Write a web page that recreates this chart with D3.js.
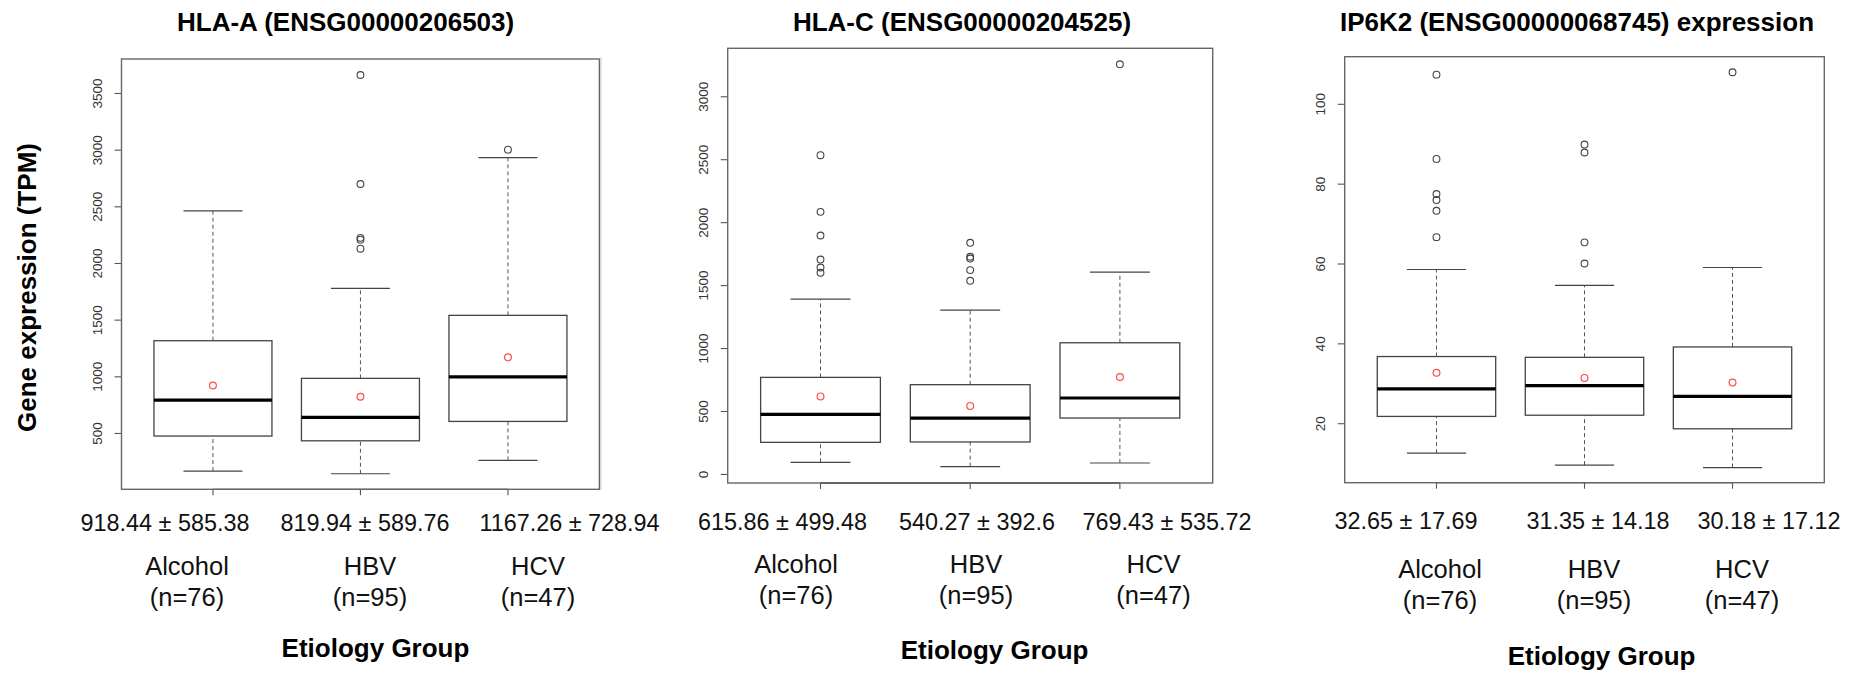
<!DOCTYPE html>
<html>
<head>
<meta charset="utf-8">
<script src="https://cdn.jsdelivr.net/npm/d3@7"></script>
<style>
  body { margin: 0; background: #fff; }
  svg { display: block; font-family: "Liberation Sans", Arial, Helvetica, sans-serif; }
</style>
</head>
<body>
<svg id="chart" width="1852" height="673"></svg>
<script>
// groups shared by all three genes
const groups = ["Alcohol", "HBV", "HCV"];
const groupN = [76, 95, 47];

// box stats per group: [lower whisker, Q1, median, Q3, upper whisker]
const hlaA_box = [[164, 473, 790, 1314, 2460], [140, 431, 638, 982, 1776], [258, 602, 995, 1538, 2929]];
const hlaA_out = [[], [3659, 2697, 2222, 2206, 2126], [3000]];
const hlaA_mean = [918.44, 819.94, 1167.26];
const hlaA_stat = ["918.44 ± 585.38", "819.94 ± 589.76", "1167.26 ± 728.94"];
const hlaA_ticks = [500, 1000, 1500, 2000, 2500, 3000, 3500];

const hlaC_box = [[92, 251, 473, 767, 1389], [58, 254, 444, 709, 1302], [87, 444, 603, 1042, 1603]];
const hlaC_out = [[2532, 2082, 1894, 1703, 1640, 1598], [1836, 1725, 1711, 1619, 1534], [3254]];
const hlaC_mean = [615.86, 540.27, 769.43];
const hlaC_stat = ["615.86 ± 499.48", "540.27 ± 392.6", "769.43 ± 535.72"];
const hlaC_ticks = [0, 500, 1000, 1500, 2000, 2500, 3000];

const ip6k2_box = [[12.5, 21.7, 28.6, 36.7, 58.5], [9.5, 22.0, 29.4, 36.5, 54.5], [8.9, 18.6, 26.7, 39.1, 59.0]];
const ip6k2_out = [[107.3, 86.2, 77.4, 75.9, 73.2, 66.6], [89.8, 87.8, 65.3, 60.0], [107.9]];
const ip6k2_mean = [32.65, 31.35, 30.18];
const ip6k2_stat = ["32.65 ± 17.69", "31.35 ± 14.18", "30.18 ± 17.12"];
const ip6k2_ticks = [20, 40, 60, 80, 100];

// layout of each panel (pixels), separate from the data
const panels = [
  { title: "HLA-A (ENSG00000206503)", box: hlaA_box, out: hlaA_out, mean: hlaA_mean, stat: hlaA_stat,
    ticks: hlaA_ticks, yDomain: [3, 3800],
    plot: { l: 121.5, r: 599.4, t: 59, b: 489.3 }, titleX: 345.6, titleY: 30.7,
    statX: [165, 365, 569.5], statY: 531, catX: [187, 370, 538], catY: [575, 606],
    etioX: 375.5, etioY: 656.6 },
  { title: "HLA-C (ENSG00000204525)", box: hlaC_box, out: hlaC_out, mean: hlaC_mean, stat: hlaC_stat,
    ticks: hlaC_ticks, yDomain: [-72, 3381],
    plot: { l: 727.7, r: 1212.7, t: 48.3, b: 483 }, titleX: 962, titleY: 30.7,
    statX: [782.5, 977, 1167], statY: 530, catX: [796, 976, 1153.5], catY: [572.7, 603.5],
    etioX: 994.6, etioY: 658.6 },
  { title: "IP6K2 (ENSG00000068745) expression", box: ip6k2_box, out: ip6k2_out, mean: ip6k2_mean, stat: ip6k2_stat,
    ticks: ip6k2_ticks, yDomain: [5.1, 111.8],
    plot: { l: 1344.7, r: 1824.3, t: 56.7, b: 482.7 }, titleX: 1577, titleY: 30.5,
    statX: [1406, 1598, 1769], statY: 529.3, catX: [1440, 1594, 1742], catY: [578, 609],
    etioX: 1601.6, etioY: 665 }
];

const svg = d3.select("#chart");

// faint edge of the middle image
svg.append("line")
  .attr("x1", 601).attr("x2", 601).attr("y1", 57).attr("y2", 490)
  .attr("stroke", "#d8d8d8").attr("stroke-width", 1.2);

function drawPanel(p) {
  const g = svg.append("g");
  const x = d3.scaleLinear().domain([0.38, 3.62]).range([p.plot.l, p.plot.r]);
  const y = d3.scaleLinear().domain(p.yDomain).range([p.plot.b, p.plot.t]);
  const step = x(2) - x(1);
  const bw = 0.8 * step, cw = 0.4 * step;

  // y axis (R style: rotated labels)
  const ax = g.append("g")
    .attr("transform", `translate(${p.plot.l},0)`)
    .call(d3.axisLeft(y).tickValues(p.ticks).tickSize(7).tickFormat(d3.format("d")));
  ax.select(".domain").remove();
  ax.selectAll(".tick line").attr("stroke", "#555").attr("stroke-width", 1.1);
  ax.selectAll(".tick text")
    .attr("x", null).attr("dy", null)
    .attr("transform", "translate(-20,0) rotate(-90)")
    .attr("text-anchor", "middle")
    .attr("font-size", 13.5)
    .attr("fill", "#333");

  // x axis ticks and line
  g.append("line")
    .attr("x1", x(1)).attr("x2", x(3)).attr("y1", p.plot.b).attr("y2", p.plot.b)
    .attr("stroke", "#333").attr("stroke-width", 1.3);
  g.selectAll(".xt").data(groups).join("line")
    .attr("x1", (d, i) => x(i + 1)).attr("x2", (d, i) => x(i + 1))
    .attr("y1", p.plot.b).attr("y2", p.plot.b + 6)
    .attr("stroke", "#555").attr("stroke-width", 1.1);

  const bx = g.selectAll(".bx").data(p.box).join("g");
  // whiskers
  bx.append("line")
    .attr("x1", (d, i) => x(i + 1)).attr("x2", (d, i) => x(i + 1))
    .attr("y1", d => y(d[3])).attr("y2", d => y(d[4]))
    .attr("stroke", "#555").attr("stroke-dasharray", "4,3");
  bx.append("line")
    .attr("x1", (d, i) => x(i + 1)).attr("x2", (d, i) => x(i + 1))
    .attr("y1", d => y(d[0])).attr("y2", d => y(d[1]))
    .attr("stroke", "#555").attr("stroke-dasharray", "4,3");
  // staples
  bx.append("line")
    .attr("x1", (d, i) => x(i + 1) - cw / 2).attr("x2", (d, i) => x(i + 1) + cw / 2)
    .attr("y1", d => y(d[4])).attr("y2", d => y(d[4]))
    .attr("stroke", "#444").attr("stroke-width", 1.2);
  bx.append("line")
    .attr("x1", (d, i) => x(i + 1) - cw / 2).attr("x2", (d, i) => x(i + 1) + cw / 2)
    .attr("y1", d => y(d[0])).attr("y2", d => y(d[0]))
    .attr("stroke", "#444").attr("stroke-width", 1.2);
  // box
  bx.append("rect")
    .attr("x", (d, i) => x(i + 1) - bw / 2).attr("width", bw)
    .attr("y", d => y(d[3])).attr("height", d => y(d[1]) - y(d[3]))
    .attr("fill", "none").attr("stroke", "#444").attr("stroke-width", 1.3);
  // median
  bx.append("line")
    .attr("x1", (d, i) => x(i + 1) - bw / 2).attr("x2", (d, i) => x(i + 1) + bw / 2)
    .attr("y1", d => y(d[2])).attr("y2", d => y(d[2]))
    .attr("stroke", "#000").attr("stroke-width", 3.2);

  // outliers
  p.out.forEach((vals, i) => {
    g.selectAll(null).data(vals).join("circle")
      .attr("cx", x(i + 1)).attr("cy", d => y(d)).attr("r", 3.4)
      .attr("fill", "none").attr("stroke", "#444").attr("stroke-width", 1.1);
  });
  // means
  g.selectAll(".mean").data(p.mean).join("circle")
    .attr("cx", (d, i) => x(i + 1)).attr("cy", d => y(d)).attr("r", 3.4)
    .attr("fill", "none").attr("stroke", "#ff4a4a").attr("stroke-width", 1.2);

  // frame
  g.append("rect")
    .attr("x", p.plot.l).attr("y", p.plot.t)
    .attr("width", p.plot.r - p.plot.l).attr("height", p.plot.b - p.plot.t)
    .attr("fill", "none").attr("stroke", "#666").attr("stroke-width", 1.4);

  // title
  g.append("text")
    .attr("x", p.titleX).attr("y", p.titleY)
    .attr("text-anchor", "middle").attr("font-weight", "bold").attr("font-size", 26)
    .attr("fill", "#000").text(p.title);

  // mean ± sd labels
  g.selectAll(".st").data(p.stat).join("text")
    .attr("x", (d, i) => p.statX[i]).attr("y", p.statY)
    .attr("text-anchor", "middle").attr("font-size", 23.4).attr("fill", "#111")
    .text(d => d);

  // category labels
  groups.forEach((name, i) => {
    g.append("text")
      .attr("x", p.catX[i]).attr("y", p.catY[0])
      .attr("text-anchor", "middle").attr("font-size", 25.5).attr("fill", "#111")
      .text(name);
    g.append("text")
      .attr("x", p.catX[i]).attr("y", p.catY[1])
      .attr("text-anchor", "middle").attr("font-size", 25.5).attr("fill", "#111")
      .text(`(n=${groupN[i]})`);
  });

  g.append("text")
    .attr("x", p.etioX).attr("y", p.etioY)
    .attr("text-anchor", "middle").attr("font-weight", "bold").attr("font-size", 26)
    .attr("fill", "#000").text("Etiology Group");
}

panels.forEach(drawPanel);

// shared y axis title
svg.append("text")
  .attr("transform", "translate(36.4,287.5) rotate(-90)")
  .attr("text-anchor", "middle").attr("font-weight", "bold").attr("font-size", 26)
  .attr("fill", "#000").text("Gene expression (TPM)");
</script>
</body>
</html>
